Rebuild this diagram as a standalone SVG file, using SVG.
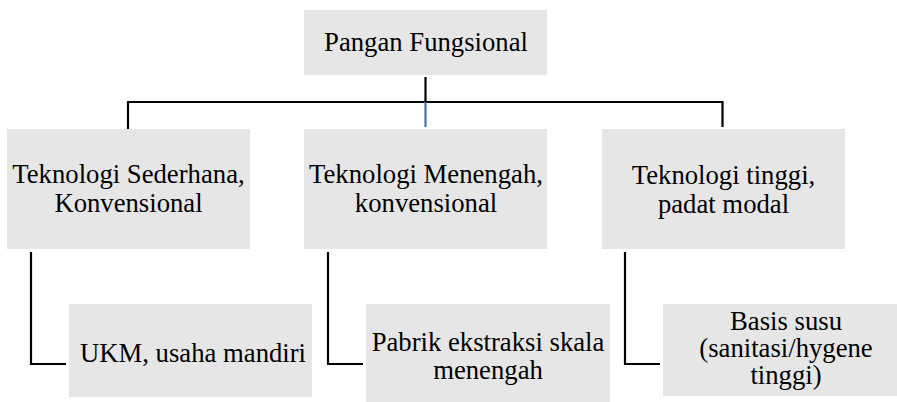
<svg xmlns="http://www.w3.org/2000/svg" width="897" height="402" viewBox="0 0 897 402">
  <style>
    .box { fill: #e6e6e6; }
    .lbl { font-family: "Liberation Serif", "Times New Roman", serif; font-size: 26.7px; fill: #000; text-anchor: middle; }
    .wire { fill: none; stroke: #000; stroke-width: 2.2; stroke-linejoin: miter; }
    .wire-blue { fill: none; stroke: #4472c4; stroke-width: 2.2; }
  </style>
  <rect width="897" height="402" fill="#fff"/>

  <!-- connectors -->
  <g id="connectors">
    <path class="wire" d="M425.5 77 V102"/>
    <path class="wire" d="M128 129 V102 H722.5 V127"/>
    <path class="wire-blue" d="M425.5 102 V127"/>
    <path class="wire" d="M31 252 V364 H66"/>
    <path class="wire" d="M328 252 V364 H363"/>
    <path class="wire" d="M625 252 V364 H660"/>
  </g>

  <!-- root -->
  <g id="pangan-fungsional">
    <rect class="box" x="304" y="10" width="243" height="65"/>
    <text class="lbl" x="426" y="51">Pangan Fungsional</text>
  </g>

  <!-- second level -->
  <g id="tek-sederhana">
    <rect class="box" x="7" y="129" width="243" height="120"/>
    <text class="lbl" x="128.5" y="183">Teknologi Sederhana,</text>
    <text class="lbl" x="128.5" y="212">Konvensional</text>
  </g>
  <g id="tek-menengah">
    <rect class="box" x="304" y="129" width="243" height="120"/>
    <text class="lbl" x="426" y="183">Teknologi Menengah,</text>
    <text class="lbl" x="426" y="212">konvensional</text>
  </g>
  <g id="tek-tinggi">
    <rect class="box" x="602" y="129" width="243" height="120"/>
    <text class="lbl" x="723.5" y="184">Teknologi tinggi,</text>
    <text class="lbl" x="723.5" y="213">padat modal</text>
  </g>

  <!-- third level -->
  <g id="ukm">
    <rect class="box" x="69" y="304" width="243" height="93"/>
    <text class="lbl" x="193" y="362">UKM, usaha mandiri</text>
  </g>
  <g id="pabrik-ekstraksi">
    <rect class="box" x="366" y="304" width="244" height="104"/>
    <text class="lbl" x="488" y="351">Pabrik ekstraksi skala</text>
    <text class="lbl" x="488" y="379">menengah</text>
  </g>
  <g id="basis-susu">
    <rect class="box" x="663" y="304" width="244" height="92"/>
    <text class="lbl" x="786" y="330">Basis susu</text>
    <text class="lbl" x="786" y="357">(sanitasi/hygene</text>
    <text class="lbl" x="786" y="384">tinggi)</text>
  </g>
</svg>
